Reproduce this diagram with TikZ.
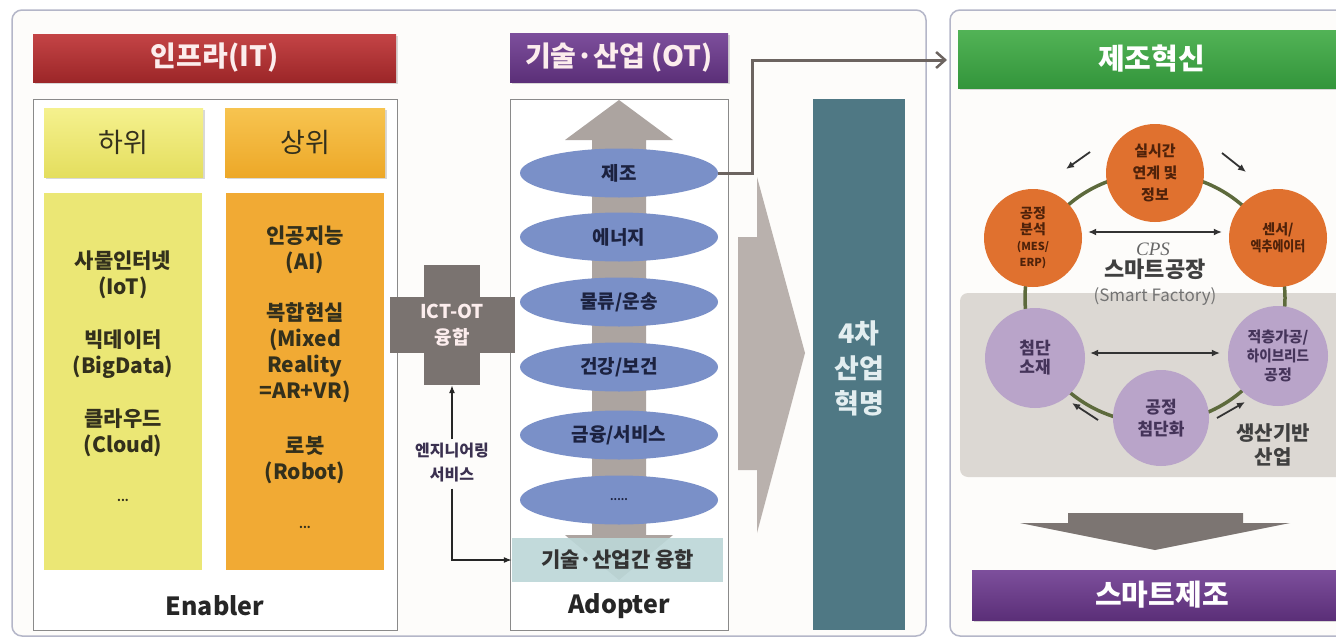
\documentclass[tikz,border=0pt]{standalone}
\usepackage{fontspec}
\setmainfont{Noto Sans CJK KR}
\newfontfamily\serifit{Liberation Serif}
\usetikzlibrary{shapes.geometric,arrows.meta,shadows,calc}

\definecolor{panelborder}{HTML}{B4B6C8}
\definecolor{panelfill}{HTML}{FDFCFA}
\definecolor{redtop}{HTML}{C44446}
\definecolor{redbot}{HTML}{9C2628}
\definecolor{purptop}{HTML}{7D4F9C}
\definecolor{purpbot}{HTML}{5B2F78}
\definecolor{greentop}{HTML}{52B356}
\definecolor{greenbot}{HTML}{33953B}
\definecolor{yeltop}{HTML}{F5F18E}
\definecolor{yelbot}{HTML}{E4DE5E}
\definecolor{orgtop}{HTML}{F7C450}
\definecolor{orgbot}{HTML}{EDA828}
\definecolor{yelbody}{HTML}{EBE775}
\definecolor{orgbody}{HTML}{F1AA34}
\definecolor{txtdark}{HTML}{33301C}
\definecolor{ellblue}{HTML}{7A90C8}
\definecolor{navytxt}{HTML}{1C2240}
\definecolor{shaftgray}{HTML}{ACA4A0}
\definecolor{fusion}{HTML}{BCD7D8}
\definecolor{chevgray}{HTML}{B9B1AD}
\definecolor{tealbox}{HTML}{4F7884}
\definecolor{tealtxt}{HTML}{E3EEF0}
\definecolor{crossgray}{HTML}{7A7370}
\definecolor{engtxt}{HTML}{3B3150}
\definecolor{conncol}{HTML}{6C6460}
\definecolor{orangec}{HTML}{E0712F}
\definecolor{orgtxt}{HTML}{4F220A}
\definecolor{lilac}{HTML}{B9A4C9}
\definecolor{lilactxt}{HTML}{45345A}
\definecolor{bggray}{HTML}{DCD8D3}
\definecolor{ringcol}{HTML}{5D6A3C}
\definecolor{darrow}{HTML}{7C7572}
\definecolor{boxgray}{HTML}{8A8A8A}
\definecolor{hdrtxt}{HTML}{FCEDED}

\begin{document}
\begin{tikzpicture}[x=1pt,y=-1pt,
  every node/.style={inner sep=0pt, align=center},
  panel/.style={draw=panelborder, line width=1.5pt, fill=panelfill, rounded corners=10pt},
  hdr/.style={text=hdrtxt, font=\bfseries\fontsize{28}{30}\selectfont,
    drop shadow={shadow xshift=1.5pt,shadow yshift=-2pt,opacity=.3}},
  subhdr/.style={text=txtdark, font=\fontsize{27}{30}\selectfont,
    drop shadow={shadow xshift=1.5pt,shadow yshift=-2pt,opacity=.3}},
  body/.style={text=txtdark, font=\bfseries\fontsize{21}{26}\selectfont},
  dots/.style={text=txtdark, font=\bfseries\fontsize{11}{12}\selectfont},
  frame/.style={draw=boxgray, line width=1pt, fill=white},
  ell/.style={ellipse, fill=ellblue, minimum width=198pt, minimum height=49pt,
    text=navytxt, font=\bfseries\fontsize{19}{22}\selectfont},
  lbl/.style={text=black!85, font=\bfseries\fontsize{25}{28}\selectfont},
  circo/.style={circle, fill=orangec, minimum size=98pt, text=orgtxt},
  circp/.style={circle, fill=lilac, minimum size=100pt, text=lilactxt},
  smallarr/.style={-{Latex[length=8pt,width=7pt]}, line width=1.8pt, black!80},
  dblarr/.style={{Latex[length=8pt,width=7pt]}-{Latex[length=8pt,width=7pt]}, line width=1.3pt, black!80}
]
\useasboundingbox (0,0) rectangle (1336,640);
\clip (0,0) rectangle (1336,640);
\fill[white] (0,0) rectangle (1336,640);

% ---------- panels ----------
\draw[panel] (12,10) rectangle (926,636);
\draw[panel] (950,10) rectangle (1370,636);

% ---------- IT column ----------
\node[hdr, top color=redtop, bottom color=redbot, minimum width=363pt, minimum height=48pt] (it) at (214.5,58) {인프라(IT)};
\node[frame, minimum width=364pt, minimum height=531pt] (enb) at (215,364.5) {};
\node[subhdr, top color=yeltop, bottom color=yelbot, minimum width=159pt, minimum height=69pt] (lo) at (123.5,142.5) {하위};
\node[subhdr, top color=orgtop, bottom color=orgbot, minimum width=160pt, minimum height=69pt] (hi) at (305,142.5) {상위};
\node[fill=yelbody, minimum width=158pt, minimum height=377pt] (ybody) at (123,381.5) {};
\node[fill=orgbody, minimum width=158pt, minimum height=377pt] (obody) at (305,381.5) {};

\node[body] (iot) at (123,275) {사물인터넷\\(IoT)};
\node[body] (bd) at (123,354) {빅데이터\\(BigData)};
\node[body] (cl) at (123,433) {클라우드\\(Cloud)};
\node[dots] (d1) at (123,500) {...};
\node[body] (ai) at (305,250) {인공지능\\(AI)};
\node[body] (mr) at (305,353) {복합현실\\(Mixed\\Reality\\=AR+VR)};
\node[body] (rb) at (305,460) {로봇\\(Robot)};
\node[dots] (d2) at (305,527) {...};
\node[lbl] (enbl) at (215,606) {Enabler};

% ---------- OT column ----------
\node[hdr, top color=purptop, bottom color=purpbot, minimum width=218pt, minimum height=49pt] (ot) at (619,57.5) {기술·산업 (OT)};
\node[frame, minimum width=218pt, minimum height=531pt] (adp) at (619,364.5) {};
\fill[shaftgray] (592,140) -- (565,140) -- (619,100) -- (673,140) -- (646,140)
  -- (646,535) -- (673,535) -- (619,580) -- (565,535) -- (592,535) -- cycle;
\node[ell] (e1) at (619,173) {제조};
\node[ell] (e2) at (619,237) {에너지};
\node[ell] (e3) at (619,302) {물류/운송};
\node[ell] (e4) at (619,367) {건강/보건};
\node[ell] (e5) at (619,435) {금융/서비스};
\node[ell, font=\bfseries\fontsize{10}{12}\selectfont] (e6) at (619,500) {.....};
\node[fill=fusion, fill opacity=0.9, text opacity=1, minimum width=211pt, minimum height=44pt,
  text=black!80, font=\bfseries\fontsize{21}{24}\selectfont] (fus) at (617.5,560) {기술·산업간 융합};
\node[lbl] (adpl) at (619,606) {Adopter};

% ---------- ICT-OT cross ----------
\node[fill=crossgray, minimum width=56pt, minimum height=120pt] (crossv) at (452,325) {};
\node[fill=crossgray, minimum width=125pt, minimum height=56pt] (crossh) at (452.5,325) {};
\node[text=hdrtxt, font=\bfseries\fontsize{19}{26}\selectfont] (ict) at (452,325) {ICT-OT\\융합};
\node[text=engtxt, font=\bfseries\fontsize{16}{24}\selectfont] (eng) at (452,463) {엔지니어링\\서비스};
\draw[-{Latex[length=8pt,width=6pt]}, line width=1.2pt, black!85, shorten <=4pt] (eng.north) -- (crossv.south);
\draw[-{Latex[length=8pt,width=6pt]}, line width=1.2pt, black!85, shorten <=6pt] (eng.south) |- (fus.west);

% ---------- big chevron and 4th revolution ----------
\fill[chevgray] (738,237) -- (757,237) -- (757,177) -- (805,353) -- (757,533) -- (757,470) -- (738,470) -- cycle;
\node[fill=tealbox, minimum width=92pt, minimum height=531pt] (rev) at (859,364.5) {};
\node[text=tealtxt, font=\bfseries\fontsize{27}{35}\selectfont] (revt) at (859,368) {4차\\산업\\혁명};

% ---------- connector to manufacturing innovation ----------
\coordinate (cbend) at (752,60);
\coordinate (inno) at (947,60);
\draw[conncol, line width=3pt, -{Straight Barb[length=9pt,width=16pt,line width=2.5pt]}] (e1.east) -| (cbend) -- (inno);

% ---------- right panel ----------
\node[hdr, top color=greentop, bottom color=greenbot, minimum width=387pt, minimum height=58pt, text=white, font=\bfseries\fontsize{29}{30}\selectfont] (mi) at (1151.5,59) {제조혁신};
\fill[bggray, rounded corners=8pt] (960,293) rectangle (1360,477);
\draw[ringcol, line width=3.5pt] (1155,298) ellipse [x radius=130pt, y radius=125pt];

\node[circo, font=\bfseries\fontsize{15}{22}\selectfont] (ct) at (1155,173) {실시간\\연계 및\\정보};
\node[circo, font=\bfseries\fontsize{14}{16}\selectfont] (cl2) at (1033,238) {공정\\분석\\{\fontsize{11}{16}\selectfont(MES/}\\{\fontsize{11}{16}\selectfont ERP)}};
\node[circo, font=\bfseries\fontsize{14}{17}\selectfont] (cr) at (1278,238) {센서/\\\scalebox{0.85}[1]{엑추에이터}};
\node[circp, font=\bfseries\fontsize{17}{19}\selectfont] (pl) at (1035,358) {첨단\\소재};
\node[circp, font=\bfseries\fontsize{15}{19}\selectfont] (pr) at (1278,356) {적층가공/\\\scalebox{0.9}[1]{하이브리드}\\공정};
\node[circp, minimum size=96pt, font=\bfseries\fontsize{17}{22}\selectfont] (pb) at (1161,418) {공정\\첨단화};

\draw[dblarr] ([yshift=6pt,xshift=6pt]cl2.east) -- ([yshift=6pt,xshift=-7pt]cr.west);
\draw[dblarr] ([yshift=5pt,xshift=5pt]pl.east) -- ([yshift=3pt,xshift=-8pt]pr.west);

\coordinate (a1s) at (1090,152); \coordinate (a1e) at (1066,169);
\coordinate (a2s) at (1222,153); \coordinate (a2e) at (1246,172);
\coordinate (a3s) at (1098,420); \coordinate (a3e) at (1072,403);
\coordinate (a4s) at (1217,418); \coordinate (a4e) at (1245,402);
\draw[smallarr] (a1s) -- (a1e);
\draw[smallarr] (a2s) -- (a2e);
\draw[smallarr] (a3s) -- (a3e);
\draw[smallarr] (a4s) -- (a4e);

\node[text=black!60, font=\serifit\itshape\fontsize{19}{20}\selectfont] (cps) at (1153,249) {CPS};
\node[text=black!75, font=\bfseries\fontsize{22}{24}\selectfont] (sf) at (1155,269) {스마트공장};
\node[text=black!55, font=\fontsize{17}{20}\selectfont] (sfe) at (1155,297) {(Smart Factory)};
\node[text=black!75, font=\bfseries\fontsize{20}{24}\selectfont] (base) at (1273,445) {생산기반\\산업};

\fill[darrow] (1068,513) -- (1243,513) -- (1243,523) -- (1290,523) -- (1155,550) -- (1020,523) -- (1068,523) -- cycle;
\node[hdr, top color=purptop, bottom color=purpbot, minimum width=380pt, minimum height=50pt, text=white, font=\bfseries\fontsize{29}{30}\selectfont] (sm) at (1162,595) {스마트제조};
\end{tikzpicture}
\end{document}
